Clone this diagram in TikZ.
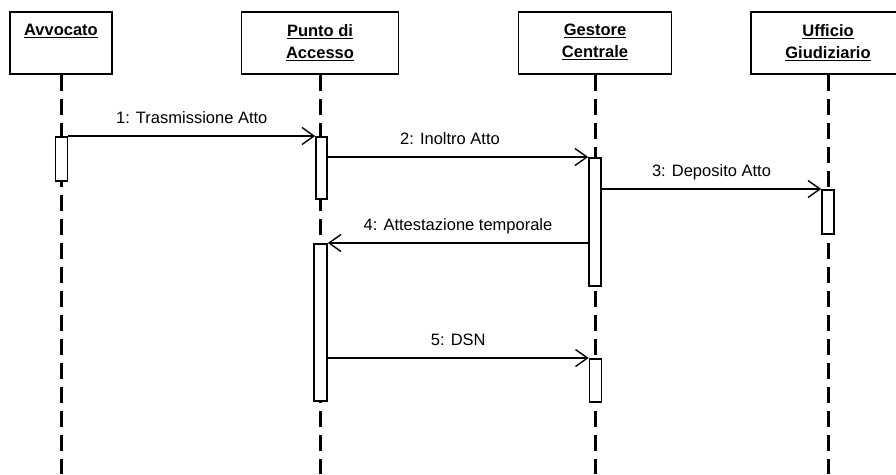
\documentclass[tikz,border=0pt]{standalone}
\usepackage{fontspec}
\setmainfont{Liberation Sans}
\usetikzlibrary{arrows.meta,positioning}

\begin{document}
\begin{tikzpicture}[x=1pt, y=-1pt,
  actor/.style={draw, line width=1.6pt, minimum height=62pt, anchor=north, inner sep=0pt},
  actorname/.style={align=center, font=\fontsize{16.5}{22}\selectfont\bfseries, inner sep=0pt},
  bar/.style={draw, fill=white, line width=1.6pt, minimum width=12pt, anchor=north, inner sep=0pt},
  life/.style={line width=3pt, dash pattern=on 16pt off 8pt},
  msg/.style={line width=1.4pt, -{Straight Barb[length=12pt,width=17pt]}},
  msglab/.style={font=\fontsize{16.5}{18}\selectfont, midway, anchor=base, yshift=13pt}]
\fill[white] (0,0) rectangle (896,474);
\useasboundingbox (0,0) rectangle (896,474);

% lifeline end
\coordinate (bot) at (0,474);

% actors
\node[actor, minimum width=102pt] (av) at (61,11) {};
\node[actor, minimum width=157pt] (pa) at (320,11) {};
\node[actor, minimum width=153pt] (gc) at (595,11) {};
\node[actor, minimum width=170pt] (ug) at (836,11) {};

\node[actorname, below=13pt of av.north] (avn) {\underline{Avvocato}};
\node[actorname, below=13pt of pa.north] (pan) {\underline{Punto di}\\\underline{Accesso}};
\node[actorname, below=13pt of gc.north] (gcn) {\underline{Gestore}\\\underline{Centrale}};
\node[actorname, below=13pt of ug.north, xshift=-8pt] (ugn) {\underline{Ufficio}\\\underline{Giudiziario}};

% lifelines
\foreach \n in {av,pa,gc}
\draw[life] (\n.south) -- (\n.south |- bot);
\draw[life] (ugn.center |- ug.south) -- (ugn.center |- bot);

% activations
\node[bar, minimum height=44pt] (av1) at (61.5,136) {};
\node[bar, minimum height=62pt, minimum width=11pt] (pa1) at (321.5,136) {};
\node[bar, minimum height=157pt, minimum width=13pt] (pa2) at (320.5,243) {};
\node[bar, minimum height=128pt] (gc1) at (595,157) {};
\node[bar, minimum height=43pt] (gc2) at (595.5,358) {};
\node[bar, minimum height=44pt] (ug1) at (828,189) {};

% messages
\draw[msg] (av1.north east) -- node[msglab] {1: Trasmissione Atto} (pa1.north west);
\draw[msg] (pa1.east |- gc1.north) -- node[msglab, xshift=-8pt] {2: Inoltro Atto} (gc1.north west);
\draw[msg] (gc1.east |- ug1.north) -- node[msglab] {3: Deposito Atto} (ug1.north west);
\draw[msg] (gc1.west |- pa2.north) -- node[msglab] {4: Attestazione temporale} (pa2.north east);
\draw[msg] (pa2.east |- gc2.north) -- node[msglab] {5: DSN} (gc2.north west);
\end{tikzpicture}
\end{document}
